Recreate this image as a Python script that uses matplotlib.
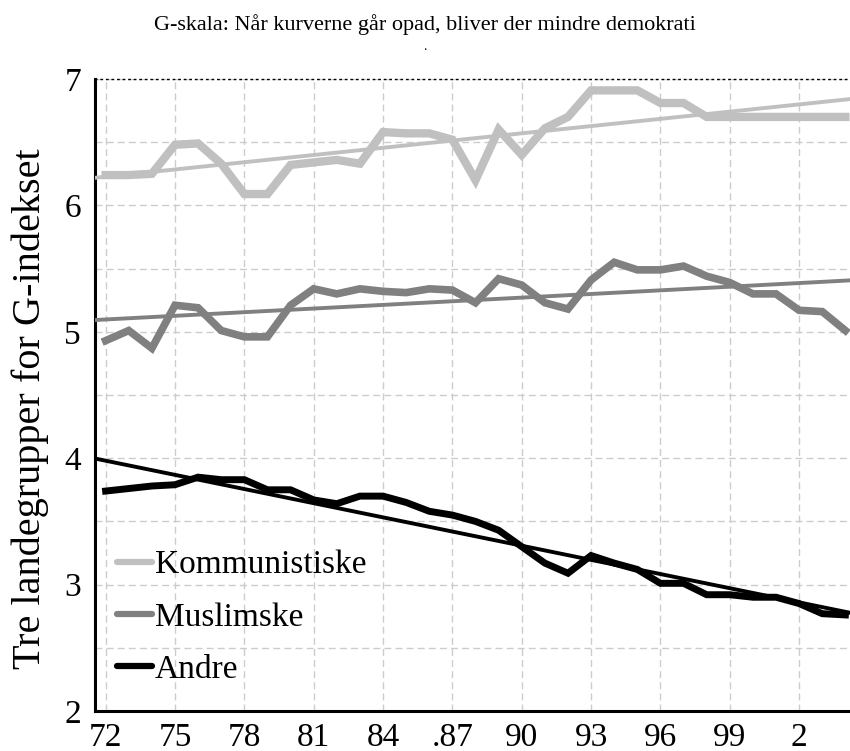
import numpy as np
import matplotlib
matplotlib.use("Agg")
import matplotlib.pyplot as plt
from matplotlib.ticker import MultipleLocator, FixedLocator

years = list(range(1972, 2005))
kommunistiske = [6.24, 6.24, 6.25, 6.48, 6.49, 6.33, 6.09, 6.09, 6.32, 6.34, 6.36, 6.33,
                 6.58, 6.57, 6.57, 6.52, 6.20, 6.60, 6.40, 6.61, 6.70, 6.91, 6.91, 6.91,
                 6.81, 6.81, 6.70, 6.70, 6.70, 6.70, 6.70, 6.70, 6.70]
muslimske = [4.93, 5.01, 4.87, 5.21, 5.19, 5.01, 4.96, 4.96, 5.21, 5.34, 5.30, 5.34,
             5.32, 5.31, 5.34, 5.33, 5.23, 5.42, 5.37, 5.23, 5.18, 5.41, 5.55, 5.49,
             5.49, 5.52, 5.44, 5.39, 5.30, 5.30, 5.17, 5.16, 5.01]
andre = [3.74, 3.76, 3.78, 3.79, 3.85, 3.83, 3.83, 3.75, 3.75, 3.67, 3.64, 3.70,
         3.70, 3.65, 3.58, 3.55, 3.50, 3.43, 3.30, 3.17, 3.09, 3.23, 3.17, 3.12,
         3.01, 3.01, 2.92, 2.92, 2.90, 2.90, 2.85, 2.77, 2.76]
labels = ["Kommunistiske", "Muslimske", "Andre"]
colors = ["#c0c0c0", "#808080", "#000000"]
xtick_years = [1972, 1975, 1978, 1981, 1984, 1987, 1990, 1993, 1996, 1999, 2002]
xtick_labels = ["72", "75", "78", "81", "84", ".87", "90", "93", "96", "99", "2"]
yticks = [2, 3, 4, 5, 6, 7]

plt.rcParams['font.family'] = ['Liberation Serif', 'DejaVu Serif']

fig = plt.figure(figsize=(8.5, 7.51), dpi=100)
ax = fig.add_axes([95/850, 1-711/751, 1-95/850, (711-79)/751])

xlim = (1971.54, 2004.2)
ax.set_xlim(*xlim)
ax.set_ylim(2, 7)

yrs = np.array(years, dtype=float)
xx = np.array(xlim)
series = [kommunistiske, muslimske, andre]
data_lw = [6.0, 5.5, 5.0]
for s, c, lab, lw in zip(series, colors, labels, data_lw):
    ax.plot(yrs, s, color=c, lw=lw, label=lab, solid_joinstyle='miter', zorder=3)
    k, b = np.polyfit(yrs, s, 1)
    ax.plot(xx, k * xx + b, color=c, lw=2.8, zorder=3)

ax.xaxis.set_major_locator(FixedLocator(xtick_years))
ax.set_xticklabels(xtick_labels)
ax.yaxis.set_major_locator(FixedLocator(yticks))
ax.yaxis.set_minor_locator(MultipleLocator(0.5))
ax.tick_params(axis='both', which='both', length=0)
ax.tick_params(axis='x', labelsize=24, pad=8)
ax.tick_params(axis='y', labelsize=24, pad=10)

ax.grid(True, which='major', axis='x', color='#cccccc', lw=1.0, ls=(0, (5, 3)))
ax.grid(True, which='both', axis='y', color='#cccccc', lw=1.0, ls=(0, (5, 3)))
ax.set_axisbelow(True)

ax.spines['right'].set_visible(False)
ax.spines['left'].set_linewidth(2.2)
ax.spines['bottom'].set_linewidth(2.2)
ax.spines['top'].set_linewidth(1.0)
ax.spines['top'].set_linestyle((0, (1, 3)))

ax.set_ylabel("Tre landegrupper for G-indekset", fontsize=29, va='center')
ax.yaxis.set_label_coords(-0.086, 0.478)

leg = ax.legend(loc='upper left', bbox_to_anchor=(0.029, 0.255), frameon=False,
                fontsize=24, handlelength=1.05, handletextpad=0.09,
                labelspacing=0.65, borderpad=0, borderaxespad=0)
for h in leg.get_lines():
    h.set_linewidth(4.5)
    h.set_solid_capstyle('round')

fig.text(0.5, 1-25/751, "G-skala: Når kurverne går opad, bliver der mindre demokrati",
         ha='center', va='center', fontsize=16)
fig.text(0.5, 1-47/751, ".", ha='center', va='center', fontsize=10)

fig.savefig("out.png", dpi=100)
